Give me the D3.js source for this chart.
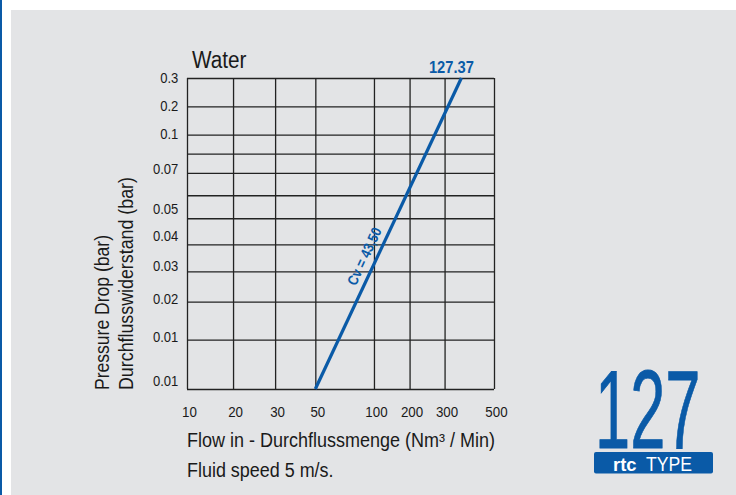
<!DOCTYPE html>
<html lang="en">
<head>
<meta charset="UTF-8">
<title>127 Water</title>
<style>
  body { margin: 0; background: #fff; }
  svg text { font-family: "Liberation Sans", Arial, sans-serif; }
</style>
</head>
<body>
<script src="https://d3js.org/d3.v7.min.js"></script>
<div id="chart"></div>
<script>
// flow ticks (Nm3/min) along the bottom
var flowTicks = [10, 20, 30, 50, 100, 200, 300, 500];
// pressure drop labels and the grid row each one sits at
var dropLabels = ["0.3", "0.2", "0.1", "0.07", "0.05", "0.04", "0.03", "0.02", "0.01", "0.01"];
var dropLabelRows = [0, 0.97, 1.96, 3.79, 5.58, 6.65, 7.78, 8.89, 9.93, 10.83];
// horizontal grid rows, 0 = top, 11 = bottom
var gridRows = d3.range(12);
// Cv line end points (flow, grid row)
var cvFlow = [50, 368];
var cvRow = [11, 0];
var cvLabel = "Cv = 43,50";
var topLabel = "127.37";

var blue = "#0a5aa7",
    ink = "#1a1a1a",
    gridColor = "#222";

var W = 736, H = 495;
var margin = {left: 187, top: 78},
    width = 307,
    height = 311;

// the original uses a condensed face, squeeze plain Liberation Sans to match
function squeeze(sel, k) {
    sel.each(function() {
        var l = this.getComputedTextLength();
        d3.select(this)
            .attr("textLength", l * k)
            .attr("lengthAdjust", "spacingAndGlyphs");
    });
}
function fit(sel, w) {
    sel.attr("textLength", w).attr("lengthAdjust", "spacingAndGlyphs");
}

var svg = d3.select("#chart")
    .append("svg")
    .attr("width", W)
    .attr("height", H);

// page background, blue edge and grey panel
svg.append("rect").attr("width", W).attr("height", H).attr("fill", "#fff");
svg.append("rect").attr("width", 2).attr("height", H).attr("fill", blue);
svg.append("rect").attr("x", 11).attr("y", 10).attr("width", W - 11).attr("height", H - 10).attr("fill", "#e3e4e6");

// the grid is hand spaced, so the scales are piecewise linear
var xFrac = [0, 0.150, 0.287, 0.418, 0.609, 0.725, 0.839, 1];
var yFrac = [0, 0.091, 0.182, 0.243, 0.305, 0.377, 0.451, 0.535, 0.622, 0.719, 0.841, 1];

var x = d3.scaleLinear()
    .domain(flowTicks)
    .range(xFrac.map(function(f) { return f * width; }));

var y = d3.scaleLinear()
    .domain(gridRows)
    .range(yFrac.map(function(f) { return f * height; }));

var g = svg.append("g")
    .attr("transform", "translate(" + margin.left + "," + margin.top + ")");

// vertical grid + flow labels
var xAxis = g.append("g")
    .attr("transform", "translate(0," + height + ")")
    .call(d3.axisBottom(x)
        .tickValues(flowTicks)
        .tickSize(-height)
        .tickPadding(17)
        .tickFormat(d3.format("d")));
xAxis.select(".domain").remove();
xAxis.selectAll("line").attr("stroke", gridColor).attr("stroke-width", 1.3);
xAxis.selectAll("text")
    .attr("dx", 2)
    .attr("fill", ink)
    .style("font-family", "'Liberation Sans', Arial, sans-serif")
    .style("font-size", "15.5px")
    .call(squeeze, 0.86);

// horizontal grid
var yGrid = g.append("g")
    .call(d3.axisLeft(y)
        .tickValues(gridRows)
        .tickSize(-width)
        .tickFormat(""));
yGrid.select(".domain").remove();
yGrid.selectAll("line").attr("stroke", gridColor).attr("stroke-width", 1.3);

// pressure labels
var yLabels = g.append("g")
    .call(d3.axisLeft(y)
        .tickValues(dropLabelRows)
        .tickSize(0)
        .tickPadding(8.7)
        .tickFormat(function(d, i) { return dropLabels[i]; }));
yLabels.select(".domain").remove();
yLabels.selectAll("text")
    .attr("fill", ink)
    .style("font-family", "'Liberation Sans', Arial, sans-serif")
    .style("font-size", "15.5px")
    .call(squeeze, 0.84);

// Cv line
var cvPoints = cvFlow.map(function(f, i) { return [f, cvRow[i]]; });
var line = d3.line()
    .x(function(d) { return x(d[0]); })
    .y(function(d) { return y(d[1]); });

g.append("path")
    .datum(cvPoints)
    .attr("d", line)
    .attr("fill", "none")
    .attr("stroke", blue)
    .attr("stroke-width", 3.2);

var p0 = [x(cvFlow[0]), y(cvRow[0])],
    p1 = [x(cvFlow[1]), y(cvRow[1])];
var dx = p1[0] - p0[0], dy = p1[1] - p0[1],
    len = Math.sqrt(dx * dx + dy * dy);
var angle = Math.atan2(dy, dx) * 180 / Math.PI;
var t = 0.41, off = 7;
var cx = p0[0] + t * dx + off * (dy / len),
    cy = p0[1] + t * dy - off * (dx / len);

g.append("text")
    .attr("transform", "translate(" + cx + "," + cy + ") rotate(" + angle + ")")
    .attr("text-anchor", "middle")
    .attr("fill", blue)
    .style("font-size", "14.5px")
    .style("font-weight", "bold")
    .text(cvLabel)
    .call(fit, 62);

g.append("text")
    .attr("x", p1[0] - 10)
    .attr("y", p1[1] - 5.5)
    .attr("text-anchor", "middle")
    .attr("fill", blue)
    .style("font-size", "17px")
    .style("font-weight", "bold")
    .text(topLabel)
    .call(fit, 45);

// titles
g.append("text")
    .attr("x", 5)
    .attr("y", -10.3)
    .attr("fill", ink)
    .style("font-size", "23px")
    .text("Water")
    .call(fit, 54.5);

g.append("text")
    .attr("x", 0)
    .attr("y", 368.7)
    .attr("fill", ink)
    .style("font-size", "19.5px")
    .text("Flow in - Durchflussmenge (Nm³ / Min)")
    .call(fit, 308);

g.append("text")
    .attr("x", 0)
    .attr("y", 398.7)
    .attr("fill", ink)
    .style("font-size", "19.5px")
    .text("Fluid speed 5 m/s.")
    .call(fit, 146.5);

svg.append("text")
    .attr("transform", "translate(109.3,390) rotate(-90)")
    .attr("fill", ink)
    .style("font-size", "21px")
    .text("Pressure Drop (bar)")
    .call(fit, 155);

svg.append("text")
    .attr("transform", "translate(133.3,390) rotate(-90)")
    .attr("fill", ink)
    .style("font-size", "21px")
    .text("Durchflusswiderstand (bar)")
    .call(fit, 213);

// type badge
var badge = svg.append("g");
badge.append("text")
    .attr("transform", "translate(595,448) scale(0.79,1.4)")
    .attr("fill", blue)
    .attr("stroke", blue)
    .attr("stroke-width", 0.6)
    .style("font-size", "80px")
    .text("127");

badge.append("rect")
    .attr("x", 594)
    .attr("y", 452)
    .attr("width", 119)
    .attr("height", 21.5)
    .attr("rx", 2)
    .attr("fill", blue);

badge.append("text")
    .attr("x", 613)
    .attr("y", 470.5)
    .attr("fill", "#fff")
    .style("font-size", "19px")
    .style("font-weight", "bold")
    .text("rtc")
    .call(fit, 23.5);

badge.append("text")
    .attr("x", 646)
    .attr("y", 470.5)
    .attr("fill", "#fff")
    .style("font-size", "20px")
    .text("TYPE")
    .call(fit, 46);
</script>
</body>
</html>
